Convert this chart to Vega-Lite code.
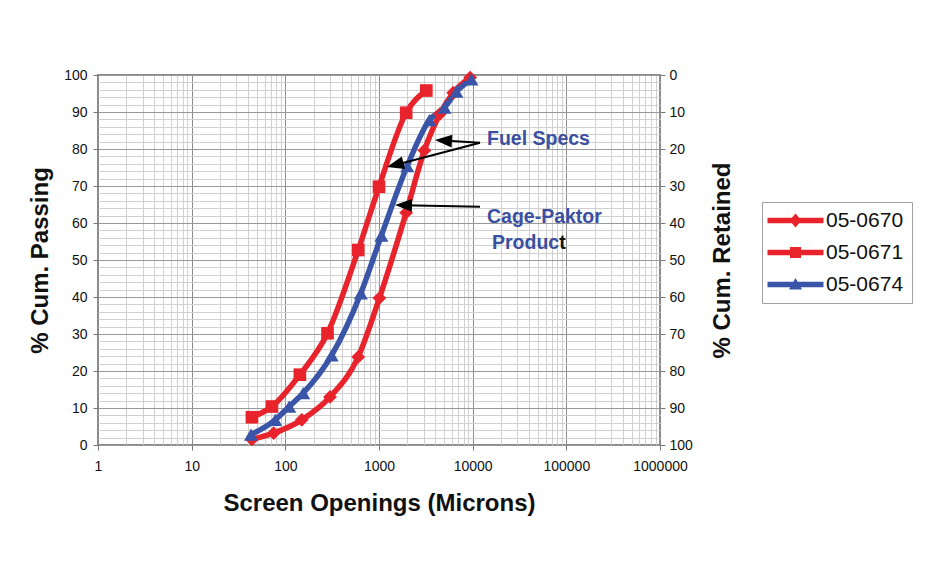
{
  "$schema": "https://vega.github.io/schema/vega-lite/v6.json",
  "width": 562,
  "height": 370,
  "autosize": {"type": "none"},
  "padding": {"left": 98, "top": 75, "right": 280, "bottom": 140},
  "background": "white",
  "config": {
    "font": "Liberation Sans",
    "view": {"stroke": "#8a8a8a", "strokeWidth": 2},
    "axis": {
      "labelFont": "Liberation Sans",
      "labelFontSize": 14,
      "labelColor": "#111111",
      "titleFont": "Liberation Sans",
      "titleFontSize": 24,
      "titleFontWeight": "bold",
      "titleColor": "#111111",
      "domain": false,
      "tickColor": "#777777",
      "tickSize": 5,
      "labelOverlap": false,
      "labelFlush": false,
      "labelBound": false
    }
  },
  "datasets": {
    "curves": [
      {"sample": "05-0670", "opening": 44, "passing": 1.5},
      {"sample": "05-0670", "opening": 75, "passing": 3.2},
      {"sample": "05-0670", "opening": 150, "passing": 6.8},
      {"sample": "05-0670", "opening": 300, "passing": 13},
      {"sample": "05-0670", "opening": 600, "passing": 23.8},
      {"sample": "05-0670", "opening": 1010, "passing": 39.7},
      {"sample": "05-0670", "opening": 1950, "passing": 62.8},
      {"sample": "05-0670", "opening": 3050, "passing": 79.6},
      {"sample": "05-0670", "opening": 4480, "passing": 89.5},
      {"sample": "05-0670", "opening": 6200, "passing": 95.2},
      {"sample": "05-0670", "opening": 9400, "passing": 99.3},
      {"sample": "05-0671", "opening": 44, "passing": 7.5},
      {"sample": "05-0671", "opening": 72, "passing": 10.4},
      {"sample": "05-0671", "opening": 143, "passing": 19},
      {"sample": "05-0671", "opening": 282, "passing": 30.2},
      {"sample": "05-0671", "opening": 600, "passing": 52.7},
      {"sample": "05-0671", "opening": 1000, "passing": 69.8},
      {"sample": "05-0671", "opening": 1950, "passing": 89.8},
      {"sample": "05-0671", "opening": 3200, "passing": 95.8},
      {"sample": "05-0674", "opening": 43, "passing": 2.8},
      {"sample": "05-0674", "opening": 78, "passing": 6.8},
      {"sample": "05-0674", "opening": 110, "passing": 10.4},
      {"sample": "05-0674", "opening": 155, "passing": 14},
      {"sample": "05-0674", "opening": 312, "passing": 24.2},
      {"sample": "05-0674", "opening": 640, "passing": 41},
      {"sample": "05-0674", "opening": 1060, "passing": 56.6},
      {"sample": "05-0674", "opening": 2000, "passing": 75.4},
      {"sample": "05-0674", "opening": 3450, "passing": 87.8},
      {"sample": "05-0674", "opening": 5000, "passing": 91.2},
      {"sample": "05-0674", "opening": 6700, "passing": 95.5},
      {"sample": "05-0674", "opening": 9700, "passing": 98.8}
    ],
    "arrows": [
      {"arrow": "fuel1", "x": 11970, "y": 81.7, "x2": 4880, "y2": 82.3},
      {"arrow": "fuel2", "x": 11970, "y": 81.7, "x2": 1489, "y2": 75.7},
      {"arrow": "cage", "x": 11970, "y": 64.4, "x2": 1826, "y2": 64.8}
    ],
    "notes": [
      {"text": "Fuel Specs", "x": 14220, "y": 82.6},
      {"text": "Cage-Paktor", "x": 14220, "y": 61.7},
      {"text": "Produc", "x": 16070, "y": 54.7},
      {"text": "t", "x": 83900, "y": 54.7}
    ]
  },
  "layer": [
    {
      "data": {"name": "curves"},
      "mark": {"type": "line", "strokeWidth": 5.5, "interpolate": "monotone"},
      "encoding": {
        "x": {
          "field": "opening",
          "type": "quantitative",
          "scale": {"type": "log", "domain": [1, 1000000], "nice": false},
          "axis": {
            "title": "Screen Openings (Microns)",
            "values": [1,2,3,4,5,6,7,8,9,10,20,30,40,50,60,70,80,90,100,200,300,400,500,600,700,800,900,1000,2000,3000,4000,5000,6000,7000,8000,9000,10000,20000,30000,40000,50000,60000,70000,80000,90000,100000,200000,300000,400000,500000,600000,700000,800000,900000,1000000],
            "labelExpr": "abs(log(datum.value)/LN10 - round(log(datum.value)/LN10)) < 0.001 ? format(datum.value, 'd') : ''",
            "grid": true,
            "gridColor": {"condition": {"test": "abs(log(datum.value)/LN10 - round(log(datum.value)/LN10)) < 0.001", "value": "#8c8c8c"}, "value": "#d0d0d0"},
            "tickOpacity": {"condition": {"test": "abs(log(datum.value)/LN10 - round(log(datum.value)/LN10)) < 0.001", "value": 1}, "value": 0},
            "labelPadding": 9,
            "titleY": 58,
            "titleBaseline": "middle"
          }
        },
        "y": {
          "field": "passing",
          "type": "quantitative",
          "scale": {"domain": [0, 100], "nice": false},
          "axis": {
            "title": "% Cum. Passing",
            "values": [0,2,4,6,8,10,12,14,16,18,20,22,24,26,28,30,32,34,36,38,40,42,44,46,48,50,52,54,56,58,60,62,64,66,68,70,72,74,76,78,80,82,84,86,88,90,92,94,96,98,100],
            "labelExpr": "datum.value % 10 === 0 ? format(datum.value, 'd') : ''",
            "grid": true,
            "gridColor": {"condition": {"test": "datum.value % 10 === 0", "value": "#999999"}, "value": "#d0d0d0"},
            "tickOpacity": {"condition": {"test": "datum.value % 10 === 0", "value": 1}, "value": 0},
            "labelPadding": 6,
            "titleAngle": 270,
            "titleX": -58,
            "titleY": 185,
            "titleAlign": "center",
            "titleBaseline": "middle"
          }
        },
        "color": {
          "field": "sample",
          "type": "nominal",
          "scale": {"domain": ["05-0670", "05-0671", "05-0674"], "range": ["#e8232b", "#e8232b", "#3a55a8"]},
          "legend": {
            "orient": "none",
            "legendX": 664,
            "legendY": 127,
            "title": null,
            "strokeColor": "#a0a0a0",
            "fillColor": "white",
            "padding": 8,
            "labelFont": "Liberation Sans",
            "labelFontSize": 21,
            "labelColor": "#111111",
            "symbolSize": 400,
            "symbolOffset": 15,
            "labelOffset": 20,
            "rowPadding": 10,
            "symbolStrokeWidth": 0,
            "symbolType": {"expr": "datum.value === '05-0670' ? 'M-2.8,-0.27H2.8V0.27H-2.8Z M0,-0.7L0.6,0L0,0.7L-0.6,0Z' : datum.value === '05-0671' ? 'M-2.8,-0.27H2.8V0.27H-2.8Z M-0.55,-0.55H0.55V0.55H-0.55Z' : 'M-2.8,-0.27H2.8V0.27H-2.8Z M0,-0.65L0.65,0.5L-0.65,0.5Z'"}
          }
        }
      }
    },
    {
      "data": {"name": "curves"},
      "transform": [{"filter": "datum.sample === '05-0670'"}],
      "mark": {"type": "point", "shape": "diamond", "filled": true, "opacity": 1, "size": 190},
      "encoding": {
        "x": {"field": "opening", "type": "quantitative", "axis": null},
        "y": {"field": "passing", "type": "quantitative", "axis": null},
        "color": {"field": "sample", "type": "nominal"}
      }
    },
    {
      "data": {"name": "curves"},
      "transform": [{"filter": "datum.sample === '05-0671'"}],
      "mark": {"type": "point", "shape": "square", "filled": true, "opacity": 1, "size": 160},
      "encoding": {
        "x": {"field": "opening", "type": "quantitative", "axis": null},
        "y": {"field": "passing", "type": "quantitative", "axis": null},
        "color": {"field": "sample", "type": "nominal"}
      }
    },
    {
      "data": {"name": "curves"},
      "transform": [{"filter": "datum.sample === '05-0674'"}],
      "mark": {"type": "point", "shape": "triangle-up", "filled": true, "opacity": 1, "size": 200},
      "encoding": {
        "x": {"field": "opening", "type": "quantitative", "axis": null},
        "y": {"field": "passing", "type": "quantitative", "axis": null},
        "color": {"field": "sample", "type": "nominal"}
      }
    },
    {
      "data": {"name": "curves"},
      "mark": {"type": "point", "opacity": 0},
      "encoding": {
        "x": {"field": "opening", "type": "quantitative", "axis": null},
        "y": {
          "field": "passing",
          "type": "quantitative",
          "axis": {
            "orient": "right",
            "title": "% Cum. Retained",
            "values": [0,10,20,30,40,50,60,70,80,90,100],
            "labelExpr": "format(100 - datum.value, 'd')",
            "grid": false,
            "labelPadding": 4,
            "titleAngle": 270,
            "titleX": 62,
            "titleY": 185,
            "titleAlign": "center",
            "titleBaseline": "middle"
          }
        }
      }
    },
    {
      "data": {"name": "arrows"},
      "mark": {"type": "rule", "color": "black", "strokeWidth": 2},
      "encoding": {
        "x": {"field": "x", "type": "quantitative", "axis": null},
        "y": {"field": "y", "type": "quantitative", "axis": null},
        "x2": {"field": "x2"},
        "y2": {"field": "y2"}
      }
    },
    {
      "data": {"name": "arrows"},
      "transform": [{"filter": "datum.arrow === 'fuel1'"}],
      "mark": {"type": "point", "shape": "M-1,0L1,-0.75L1,0.75Z", "filled": true, "color": "black", "opacity": 1, "size": 289, "angle": 3.8},
      "encoding": {
        "x": {"field": "x2", "type": "quantitative", "axis": null},
        "y": {"field": "y2", "type": "quantitative", "axis": null}
      }
    },
    {
      "data": {"name": "arrows"},
      "transform": [{"filter": "datum.arrow === 'fuel2'"}],
      "mark": {"type": "point", "shape": "M-1,0L1,-0.75L1,0.75Z", "filled": true, "color": "black", "opacity": 1, "size": 289, "angle": -14.5},
      "encoding": {
        "x": {"field": "x2", "type": "quantitative", "axis": null},
        "y": {"field": "y2", "type": "quantitative", "axis": null}
      }
    },
    {
      "data": {"name": "arrows"},
      "transform": [{"filter": "datum.arrow === 'cage'"}],
      "mark": {"type": "point", "shape": "M-1,0L1,-0.75L1,0.75Z", "filled": true, "color": "black", "opacity": 1, "size": 289, "angle": 1.3},
      "encoding": {
        "x": {"field": "x2", "type": "quantitative", "axis": null},
        "y": {"field": "y2", "type": "quantitative", "axis": null}
      }
    },
    {
      "data": {"name": "notes"},
      "mark": {"type": "text", "align": "left", "baseline": "middle", "font": "Liberation Sans", "fontWeight": "bold", "fontSize": 19.5},
      "encoding": {
        "x": {"field": "x", "type": "quantitative", "axis": null},
        "y": {"field": "y", "type": "quantitative", "axis": null},
        "text": {"field": "text"},
        "color": {"condition": {"test": "datum.text === 't'", "value": "#111111"}, "value": "#3a4fa0"}
      }
    }
  ],
  "resolve": {"axis": {"x": "independent", "y": "independent"}}
}
